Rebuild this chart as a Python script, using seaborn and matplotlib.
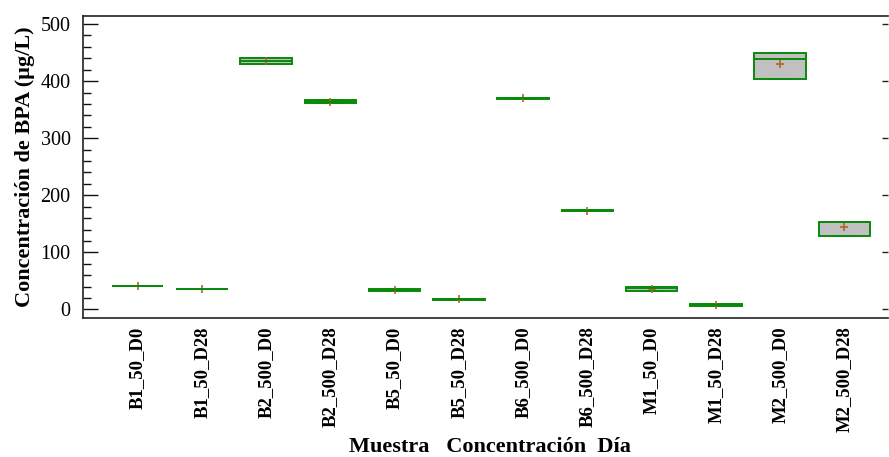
import numpy as np
import pandas as pd
import matplotlib
matplotlib.use("Agg")
import matplotlib.pyplot as plt
import seaborn as sns

# ---- data (three replicates per sample, µg/L) ----
samples = ["B1_50_D0", "B1_50_D28", "B2_500_D0", "B2_500_D28",
           "B5_50_D0", "B5_50_D28", "B6_500_D0", "B6_500_D28",
           "M1_50_D0", "M1_50_D28", "M2_500_D0", "M2_500_D28"]
rep_low = [40.5, 35.0, 430.0, 361.0, 32.0, 16.5, 369.0, 172.0, 32.0, 6.5, 404.0, 128.0]
rep_mid = [41.0, 35.5, 435.0, 364.0, 34.0, 17.5, 370.0, 173.0, 37.0, 8.0, 439.0, 153.0]
rep_high = [41.5, 36.0, 440.0, 367.0, 35.0, 18.5, 371.0, 174.0, 40.0, 9.5, 449.0, 154.0]

y_label = "Concentración de BPA (µg/L)"
x_label = "Muestra   Concentración  Día"

sns.set_style("ticks")
plt.rcParams["font.family"] = ["Liberation Serif", "DejaVu Serif"]
plt.rcParams["text.color"] = "black"
plt.rcParams["axes.labelcolor"] = "black"
plt.rcParams["xtick.color"] = "black"
plt.rcParams["ytick.color"] = "black"

# raw replicates (for the mean marker)
raw = pd.DataFrame({
    "Muestra": np.repeat(samples, 3),
    "BPA": np.ravel(np.column_stack([rep_low, rep_mid, rep_high])),
})
# box hinges at the extreme replicates (as in the reference): low, low, mid, high, high
box = pd.DataFrame({
    "Muestra": np.repeat(samples, 5),
    "BPA": np.ravel(np.column_stack([rep_low, rep_low, rep_mid, rep_high, rep_high])),
})

fig = plt.figure(figsize=(8.89, 4.57), dpi=100)
ax = fig.add_axes([83 / 889, 1 - 318 / 457, (888 - 83) / 889, (318 - 15.5) / 457])

green = "#0a8a0a"
sns.boxplot(data=box, x="Muestra", y="BPA", order=samples, ax=ax,
            color="#c0c0c0", linecolor=green, linewidth=1.4, width=0.8,
            saturation=1, whis=(0, 100), fliersize=0)
sns.pointplot(data=raw, x="Muestra", y="BPA", order=samples, ax=ax,
              estimator="mean", errorbar=None, markers="+", linestyles="none",
              color="#b5651d", markersize=6, markeredgewidth=1.2)

ax.set_xlim(-0.85, 11.68)
ax.set_ylim(-15, 515)
ax.set_yticks([0, 100, 200, 300, 400, 500])
ax.set_yticks(np.arange(0, 501, 20), minor=True)
ax.tick_params(axis="y", which="major", direction="in", length=11, width=1.0,
               labelsize=14.5, pad=9, color="#111111")
ax.tick_params(axis="y", which="minor", direction="in", length=5.5, width=1.0,
               color="#111111", left=True)
ax.tick_params(axis="x", length=0, labelsize=13.5, pad=6, labelrotation=90)
for lab in ax.get_xticklabels():
    lab.set_fontweight("bold")
for lab in ax.get_yticklabels():
    lab.set_color("black")

ax.set_ylabel(y_label, fontsize=16, fontweight="bold", labelpad=4)
ax.set_xlabel(x_label, fontsize=16, fontweight="bold", labelpad=5)
ax.xaxis.set_label_coords(0.505, -0.395)

for side in ["left", "bottom", "top"]:
    ax.spines[side].set_visible(True)
    ax.spines[side].set_color("#222222")
    ax.spines[side].set_linewidth(1.2)
ax.spines["right"].set_visible(False)

ax2 = ax.twinx()
ax2.set_ylim(ax.get_ylim())
ax2.set_yticks([0, 100, 200, 300, 400, 500])
ax2.tick_params(axis="y", direction="in", length=4, width=1.0, labelright=False,
                color="#222222")
for side in ax2.spines.values():
    side.set_visible(False)

fig.savefig("out.png", dpi=100)
